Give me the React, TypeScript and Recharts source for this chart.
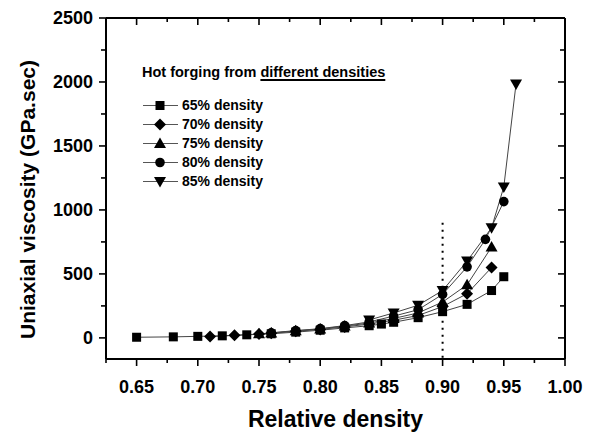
import { LineChart, Line, XAxis, YAxis, ReferenceLine, Label } from "recharts";

const FONT = '"Liberation Sans", Arial, sans-serif';
const W = 596;
const H = 435;
const MARGIN = { top: 18, right: 31, bottom: 0, left: 0 };
const PLOT_TOP = MARGIN.top;
const PLOT_RIGHT = W - MARGIN.right;

// axis ticks
const xMajorTicks = [0.65, 0.7, 0.75, 0.8, 0.85, 0.9, 0.95, 1.0];
const xMinorTicks = [0.625, 0.675, 0.725, 0.775, 0.825, 0.875, 0.925, 0.975];
const yMajorTicks = [0, 500, 1000, 1500, 2000, 2500];
const yMinorTicks = [250, 750, 1250, 1750, 2250];
const xAllTicks = [...xMajorTicks, ...xMinorTicks].sort((a, b) => a - b);
const yAllTicks = [...yMajorTicks, ...yMinorTicks].sort((a, b) => a - b);
const xDomain = [0.625, 1.0];
const yDomain = [-165, 2500];

// series values (relative density -> viscosity, GPa.sec)
const d65X = [0.65, 0.68, 0.7, 0.72, 0.74, 0.76, 0.78, 0.8, 0.82, 0.84, 0.85, 0.86, 0.88, 0.9, 0.92, 0.94, 0.95];
const d65Y = [5, 8, 12, 16, 24, 32, 45, 60, 78, 95, 108, 122, 158, 205, 262, 370, 478];
const d70X = [0.71, 0.73, 0.75, 0.76, 0.78, 0.8, 0.82, 0.84, 0.86, 0.88, 0.9, 0.92, 0.94];
const d70Y = [10, 20, 30, 36, 52, 66, 86, 108, 138, 175, 245, 345, 550];
const d75X = [0.75, 0.76, 0.78, 0.8, 0.82, 0.84, 0.86, 0.88, 0.9, 0.92, 0.94];
const d75Y = [32, 38, 55, 70, 92, 116, 152, 195, 280, 415, 710];
const d80X = [0.76, 0.78, 0.8, 0.82, 0.84, 0.86, 0.88, 0.9, 0.92, 0.935, 0.95];
const d80Y = [40, 57, 72, 96, 125, 170, 220, 340, 555, 770, 1065];
const d85X = [0.84, 0.86, 0.88, 0.9, 0.92, 0.94, 0.95, 0.96];
const d85Y = [140, 195, 255, 370, 600, 860, 1180, 1985];

const zip = (xs: number[], ys: number[]) => xs.map((x, i) => ({ x, y: ys[i] }));

type Shape = "square" | "diamond" | "up" | "circle" | "down";

const series: { name: string; shape: Shape; data: { x: number; y: number }[] }[] = [
  { name: "65% density", shape: "square", data: zip(d65X, d65Y) },
  { name: "70% density", shape: "diamond", data: zip(d70X, d70Y) },
  { name: "75% density", shape: "up", data: zip(d75X, d75Y) },
  { name: "80% density", shape: "circle", data: zip(d80X, d80Y) },
  { name: "85% density", shape: "down", data: zip(d85X, d85Y) },
];

function Marker({ shape, cx, cy }: { shape: Shape; cx: number; cy: number }) {
  switch (shape) {
    case "square":
      return <rect x={cx - 4.5} y={cy - 4.5} width={9} height={9} fill="#000" />;
    case "diamond":
      return <polygon points={`${cx},${cy - 6} ${cx + 6},${cy} ${cx},${cy + 6} ${cx - 6},${cy}`} fill="#000" />;
    case "up":
      return <polygon points={`${cx},${cy - 6} ${cx + 6},${cy + 4.5} ${cx - 6},${cy + 4.5}`} fill="#000" />;
    case "circle":
      return <circle cx={cx} cy={cy} r={4.8} fill="#000" />;
    default:
      return <polygon points={`${cx - 6},${cy - 4.5} ${cx + 6},${cy - 4.5} ${cx},${cy + 6}`} fill="#000" />;
  }
}

// bottom ticks point out, mirrored top ticks point in
function BottomTick({ x, y, payload }: any) {
  const major = xMajorTicks.includes(payload.value);
  const len = major ? 7 : 4;
  return (
    <g>
      <line x1={x} x2={x} y1={y} y2={y + len} stroke="#000" strokeWidth={1.6} />
      <line x1={x} x2={x} y1={PLOT_TOP} y2={PLOT_TOP + len} stroke="#000" strokeWidth={1.6} />
      {major && (
        <text x={x} y={y + 34} textAnchor="middle" fontFamily={FONT} fontWeight={700} fontSize={18} fill="#000">
          {payload.value.toFixed(2)}
        </text>
      )}
    </g>
  );
}

// left ticks point out, mirrored right ticks point in
function LeftTick({ x, y, payload }: any) {
  const major = yMajorTicks.includes(payload.value);
  const len = major ? 7 : 5;
  return (
    <g>
      <line x1={x} x2={x - len} y1={y} y2={y} stroke="#000" strokeWidth={1.6} />
      <line x1={PLOT_RIGHT} x2={PLOT_RIGHT - len} y1={y} y2={y} stroke="#000" strokeWidth={1.6} />
      {major && (
        <text x={x - 13} y={y} dy="0.36em" textAnchor="end" fontFamily={FONT} fontWeight={700} fontSize={18} fill="#000">
          {payload.value}
        </text>
      )}
    </g>
  );
}

function LegendBox() {
  return (
    <div style={{ position: "absolute", left: 141, top: 63, fontFamily: FONT, fontWeight: 700, color: "#000" }}>
      <div style={{ fontSize: 14.5, lineHeight: "18px", marginBottom: 14.5, paddingLeft: 1, whiteSpace: "nowrap" }}>
        Hot forging from{" "}
        <span style={{ textDecoration: "underline", textDecorationThickness: 2, textUnderlineOffset: 2 }}>
          different densities
        </span>
      </div>
      {series.map((s) => (
        <div key={s.name} style={{ display: "flex", alignItems: "center", height: 19, fontSize: 14, whiteSpace: "nowrap" }}>
          <svg width={41} height={19} style={{ display: "block" }}>
            <line x1={2} x2={37} y1={9.5} y2={9.5} stroke="#555" strokeWidth={1} />
            <Marker shape={s.shape} cx={19} cy={9.5} />
          </svg>
          <span>{s.name}</span>
        </div>
      ))}
    </div>
  );
}

export default function App() {
  return (
    <div style={{ position: "absolute", left: 0, top: 0, width: W, height: H, background: "#fff" }}>
      <LineChart width={W} height={H} margin={MARGIN}>
        <XAxis
          type="number"
          dataKey="x"
          domain={xDomain}
          ticks={xAllTicks}
          interval={0}
          allowDataOverflow
          height={76}
          tickSize={0}
          tickMargin={0}
          tickLine={false}
          tick={BottomTick}
          axisLine={{ stroke: "#000", strokeWidth: 2 }}
        >
          <Label
            content={({ viewBox }: any) => (
              <text
                x={viewBox.x + viewBox.width / 2}
                y={viewBox.y + 68}
                textAnchor="middle"
                fontFamily={FONT}
                fontWeight={700}
                fontSize={23}
                fill="#000"
              >
                Relative density
              </text>
            )}
          />
        </XAxis>
        <YAxis
          type="number"
          domain={yDomain}
          ticks={yAllTicks}
          interval={0}
          allowDataOverflow
          width={106}
          tickSize={0}
          tickMargin={0}
          tickLine={false}
          tick={LeftTick}
          axisLine={{ stroke: "#000", strokeWidth: 2 }}
        >
          <Label
            content={({ viewBox }: any) => {
              const cx = viewBox.x + 27;
              const cy = viewBox.y + viewBox.height / 2 + 11;
              return (
                <text
                  x={cx}
                  y={cy}
                  dy="0.36em"
                  transform={`rotate(-90, ${cx}, ${cy})`}
                  textAnchor="middle"
                  fontFamily={FONT}
                  fontWeight={700}
                  fontSize={21}
                  fill="#000"
                >
                  Uniaxial viscosity (GPa.sec)
                </text>
              );
            }}
          />
        </YAxis>
        {/* top and right sides of the frame */}
        <ReferenceLine y={yDomain[1]} stroke="#000" strokeWidth={2} ifOverflow="visible" />
        <ReferenceLine x={xDomain[1]} stroke="#000" strokeWidth={2} ifOverflow="visible" />
        <ReferenceLine
          segment={[
            { x: 0.9, y: 900 },
            { x: 0.9, y: yDomain[0] },
          ]}
          stroke="#000"
          strokeWidth={2}
          strokeDasharray="2 5"
        />
        {series.map((s) => (
          <Line
            key={s.name}
            name={s.name}
            data={s.data}
            dataKey="y"
            type="linear"
            stroke="#444"
            strokeWidth={1}
            isAnimationActive={false}
            dot={(p: any) => <Marker key={`${s.name}-${p.index}`} shape={s.shape} cx={p.cx} cy={p.cy} />}
            activeDot={false}
          />
        ))}
      </LineChart>
      <LegendBox />
    </div>
  );
}
